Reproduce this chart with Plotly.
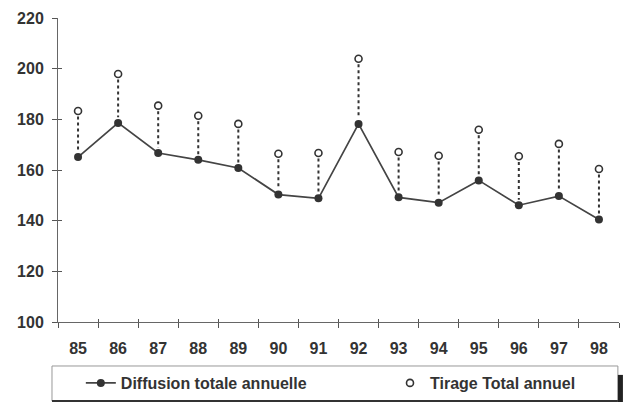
import plotly.graph_objects as go

years = ["85", "86", "87", "88", "89", "90", "91", "92", "93", "94", "95", "96", "97", "98"]
diffusion = [165.1, 178.6, 166.7, 164.0, 160.8, 150.3, 148.8, 178.2, 149.2, 147.1, 155.9, 146.1, 149.7, 140.5]
tirage = [183.3, 197.9, 185.4, 181.4, 178.2, 166.4, 166.7, 203.9, 167.1, 165.6, 175.9, 165.4, 170.3, 160.4]
y_ticks = [100, 120, 140, 160, 180, 200, 220]

# dotted connectors built from the data
cx, cy = [], []
for yr, d, t in zip(years, diffusion, tirage):
    cx += [yr, yr, None]
    cy += [t - 2.2, d + 2.2, None]

font = dict(family="Liberation Sans, Arial, sans-serif", size=16, color="#333333", weight="bold")

fig = go.Figure()
fig.add_trace(go.Scatter(x=cx, y=cy, mode="lines", showlegend=False, hoverinfo="skip",
                         line=dict(color="#333333", width=2, dash="dot")))
fig.add_trace(go.Scatter(x=years, y=diffusion, mode="lines+markers", name="Diffusion totale annuelle",
                         line=dict(color="#444444", width=1.7),
                         marker=dict(symbol="circle", size=8, color="#333333"), legend="legend"))
fig.add_trace(go.Scatter(x=years, y=tirage, mode="markers", name="Tirage Total annuel",
                         marker=dict(symbol="circle-open", size=7, color="#333333", line=dict(width=1.6)),
                         legend="legend2"))
# invisible helper trace so the overlay axes (inner tick halves) know the categories
fig.add_trace(go.Scatter(x=years, y=diffusion, xaxis="x2", yaxis="y2", mode="markers",
                         marker=dict(opacity=0), showlegend=False, hoverinfo="skip"))

leg_common = dict(orientation="h", yanchor="middle", y=-0.2007, xanchor="left",
                  bgcolor="rgba(0,0,0,0)", borderwidth=0, font=font)

fig.update_layout(
    width=626, height=402,
    margin=dict(l=58, r=7, t=18, b=80, autoexpand=False),
    paper_bgcolor="white", plot_bgcolor="white",
    font=font,
    showlegend=True,
    legend=dict(x=0.0407, **leg_common),
    legend2=dict(x=0.5918, **leg_common),
    xaxis2=dict(type="category", range=[-0.5, 13.5], tickson="boundaries", ticks="inside", ticklen=3,
                tickcolor="#555555", showticklabels=False, showgrid=False, zeroline=False,
                overlaying="x", anchor="y2", side="bottom", showline=False),
    yaxis2=dict(range=[100, 220], tickvals=y_ticks, ticks="inside", ticklen=4, tickcolor="#555555",
                showticklabels=False, showgrid=False, zeroline=False, overlaying="y", anchor="x2",
                side="left", showline=False),
    shapes=[
        dict(type="rect", xref="paper", yref="paper", x0=-0.0107, x1=0.998, y0=-0.26, y1=-0.1447,
             fillcolor="rgba(0,0,0,0)", line=dict(color="#999999", width=1), layer="below"),
        dict(type="line", xref="paper", yref="paper", x0=-0.0107, x1=0.998, y0=-0.26, y1=-0.26,
             line=dict(color="#333333", width=2)),
        dict(type="rect", xref="paper", yref="paper", x0=0.998, x1=1.007, y0=-0.266, y1=-0.174,
             fillcolor="#222222", line=dict(width=0)),
    ],
    xaxis=dict(type="category", range=[-0.5, 13.5], tickson="boundaries", ticks="outside", ticklen=5,
               tickcolor="#555555", showline=True, linecolor="#666666", linewidth=1, showgrid=False,
               tickfont=font, ticklabelstandoff=12, zeroline=False),
    yaxis=dict(range=[100, 220], tickvals=y_ticks, ticks="outside", ticklen=5, tickcolor="#555555",
               showline=True, linecolor="#666666", linewidth=1, showgrid=False, zeroline=False,
               tickfont=font, ticklabelstandoff=5),
)

fig.write_html("out.html", config={"displayModeBar": False},
               post_script="document.body.style.margin='0';document.body.style.overflow='hidden';")
